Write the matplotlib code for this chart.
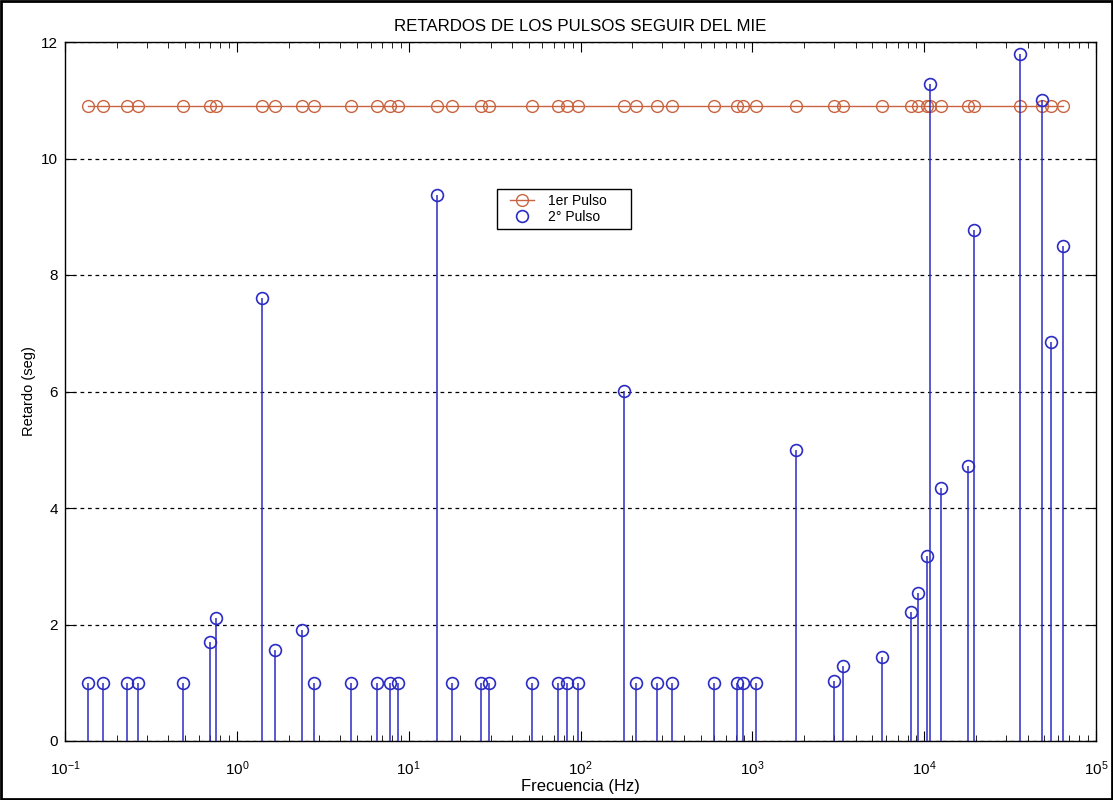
import matplotlib
matplotlib.use("Agg")
import matplotlib.pyplot as plt
from matplotlib.patches import Rectangle
from matplotlib.ticker import FixedLocator, NullFormatter, LogFormatterSciNotation

plt.rcParams['font.family'] = ['Liberation Sans', 'DejaVu Sans']

# Frequencies (Hz) of each pulse pair
frecuencias = [0.1355, 0.167, 0.2286, 0.266, 0.484, 0.698, 0.757, 1.40, 1.67, 2.41,
               2.81, 4.64, 6.57, 7.80, 8.71, 14.7, 17.8, 26.4, 29.5, 52.5,
               73.8, 83.2, 97.2, 179.5, 210.8, 278, 340, 600, 819, 888,
               1052, 1799, 2994, 3365, 5700, 8370, 9230, 10450, 10840, 12500,
               18030, 19540, 35970, 48420, 54600, 64170]

# Delay of the first pulse (seg)
pulso1 = [10.9] * len(frecuencias)

# Delay of the second pulse (seg)
pulso2 = [1.0, 1.0, 1.0, 1.0, 1.0, 1.70, 2.11, 7.61, 1.56, 1.91,
          1.0, 1.0, 1.0, 1.0, 1.0, 9.38, 1.0, 1.0, 1.0, 1.0,
          1.0, 1.0, 1.0, 6.01, 1.0, 1.0, 1.0, 1.0, 1.0, 1.0,
          1.0, 5.0, 1.03, 1.28, 1.44, 2.21, 2.54, 3.18, 11.28, 4.35,
          4.72, 8.78, 11.8, 11.0, 6.85, 8.49]

titulo = "RETARDOS DE LOS PULSOS SEGUIR DEL MIE"
xlabel = "Frecuencia (Hz)"
ylabel = "Retardo (seg)"
leyenda = ["1er Pulso", "2\u00b0 Pulso"]
xticks = [1e-1, 1e0, 1e1, 1e2, 1e3, 1e4, 1e5]
yticks = [0, 2, 4, 6, 8, 10, 12]

naranja = '#c86440'
azul = '#2c2cc4'

W, H = 1113, 800
fig = plt.figure(figsize=(W / 100, H / 100), dpi=100)
ax_l, ax_r, ax_t, ax_b = 65, 1096, 42, 741
ax = fig.add_axes([ax_l/W, 1-ax_b/H, (ax_r-ax_l)/W, (ax_b-ax_t)/H])

l1, = ax.plot(frecuencias, pulso1, '-o', color=naranja, mfc='none', mec=naranja,
              ms=8.5, lw=1.0, mew=1.0, zorder=2)
ax.vlines(frecuencias, 0, pulso2, colors=azul, lw=1.1, zorder=3)
l2, = ax.plot(frecuencias, pulso2, 'o', color=azul, mfc='none', mec=azul,
              ms=8.5, mew=1.2, zorder=4)

ax.set_xscale('log')
ax.set_xlim(xticks[0], xticks[-1])
ax.set_ylim(yticks[0], yticks[-1])
ax.set_yticks(yticks)
ax.xaxis.set_major_locator(FixedLocator(xticks))
ax.xaxis.set_major_formatter(LogFormatterSciNotation())
minors = [m * t for t in xticks[:-1] for m in range(2, 10)]
ax.xaxis.set_minor_locator(FixedLocator(minors))
ax.xaxis.set_minor_formatter(NullFormatter())

ax.yaxis.grid(True, linestyle=(0, (3, 3)), color='black', lw=0.9)
ax.set_axisbelow(True)

ax.tick_params(which='both', direction='in', top=True, right=True)
ax.tick_params(which='major', length=7)
ax.tick_params(which='minor', length=4)
ax.tick_params(axis='x', which='major', labelsize=11, pad=13)
ax.tick_params(axis='y', which='major', labelsize=11, pad=5)
for s in ax.spines.values():
    s.set_linewidth(1.0)

ax.set_title(titulo, fontsize=12.2, pad=8)
ax.set_xlabel(xlabel, fontsize=12, labelpad=1)
ax.set_ylabel(ylabel, fontsize=10.5, labelpad=4)

# legend (frame drawn separately to match the wide box of the original)
leg_l, leg_t, leg_r, leg_b = 497, 189, 631, 229
leg = ax.legend([l1, l2], leyenda, loc='upper left',
                bbox_to_anchor=((leg_l + 9 - ax_l)/(ax_r-ax_l), (ax_b - leg_t - 1)/(ax_b-ax_t)),
                fontsize=10, frameon=False,
                handlelength=1.7, borderpad=0.3, labelspacing=0.15,
                handletextpad=1.0, borderaxespad=0)
ax.add_patch(Rectangle(((leg_l-ax_l)/(ax_r-ax_l), (ax_b-leg_b)/(ax_b-ax_t)),
                       (leg_r-leg_l)/(ax_r-ax_l), (leg_b-leg_t)/(ax_b-ax_t),
                       transform=ax.transAxes, facecolor='white', edgecolor='black',
                       lw=1.0, zorder=5))
leg.set_zorder(6)

fig.patches.append(Rectangle((0.0013, 0.0018), 0.9974, 0.9964, transform=fig.transFigure,
                             fill=False, edgecolor='black', lw=2))

fig.savefig('out.png', dpi=100)
